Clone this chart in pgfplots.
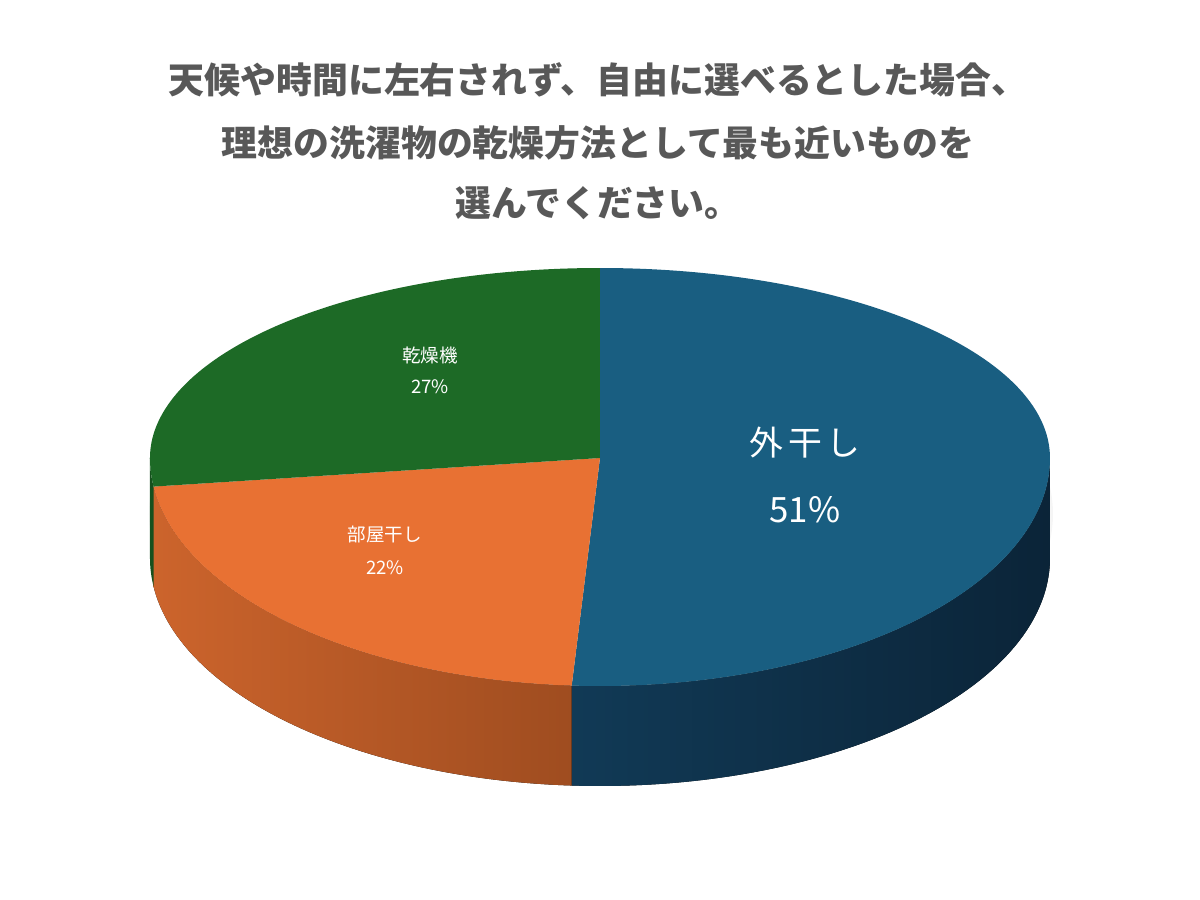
\documentclass[border=0pt]{standalone}
\usepackage{pgfplots}
\pgfplotsset{compat=1.18}
\usepackage{fontspec}
\setmainfont{Noto Sans CJK JP}
\definecolor{titlegray}{RGB}{88,88,88}
\definecolor{topblue}{RGB}{25,94,129}
\definecolor{topgreen}{RGB}{29,106,38}
\definecolor{toporange}{RGB}{232,113,51}
\definecolor{sideblueL}{RGB}{17,58,86}
\definecolor{sideblueR}{RGB}{11,36,56}
\definecolor{sideorangeL}{RGB}{204,100,44}
\definecolor{sideorangeR}{RGB}{156,75,31}
\definecolor{sidegreen}{RGB}{22,80,30}
% data (percent)
\def\vSoto{51}   % 外干し
\def\vHeya{22}   % 部屋干し
\def\vKanso{27}  % 乾燥機
\begin{document}
\begin{tikzpicture}
\pgfmathsetmacro\aA{90}
\pgfmathsetmacro\aB{90-3.6*\vSoto}
\pgfmathsetmacro\aC{\aB-3.6*\vHeya}
\pgfmathsetmacro\aD{\aC-3.6*\vKanso}
\begin{axis}[at={(0,0)},anchor=south west,x=0.5bp,y=0.5bp,
  xmin=0,xmax=1200,ymin=0,ymax=900,hide axis,clip=false]
% shadow
\fill[gray!15,opacity=0.5] (axis cs:601,386) ellipse[x radius=226bp,y radius=117bp];
% side walls (near half)
\fill[left color=sideblueL,right color=sideblueR]
  (axis cs:600,442) ++(0:225bp and 114bp)
  arc[start angle=0,end angle=\aB,x radius=225bp,y radius=114bp]
  -- ++(0,-50bp)
  arc[start angle=\aB,end angle=0,x radius=225bp,y radius=114bp] -- cycle;
\fill[left color=sideorangeL,right color=sideorangeR]
  (axis cs:600,442) ++(\aB:225bp and 114bp)
  arc[start angle=\aB,end angle=\aC,x radius=225bp,y radius=114bp]
  -- ++(0,-50bp)
  arc[start angle=\aC,end angle=\aB,x radius=225bp,y radius=114bp] -- cycle;
\fill[sidegreen]
  (axis cs:600,442) ++(\aC:225bp and 114bp)
  arc[start angle=\aC,end angle=-180,x radius=225bp,y radius=114bp]
  -- ++(0,-50bp)
  arc[start angle=-180,end angle=\aC,x radius=225bp,y radius=114bp] -- cycle;
% top faces
\fill[topblue] (axis cs:600,442) -- ++(90:225bp and 95bp)
  arc[start angle=90,end angle=0,x radius=225bp,y radius=95bp]
  arc[start angle=0,end angle=\aB,x radius=225bp,y radius=114bp] -- cycle;
\fill[toporange] (axis cs:600,442) -- ++(\aB:225bp and 114bp)
  arc[start angle=\aB,end angle=\aC,x radius=225bp,y radius=114bp] -- cycle;
\fill[topgreen] (axis cs:600,442) -- ++(\aC:225bp and 114bp)
  arc[start angle=\aC,end angle=-180,x radius=225bp,y radius=114bp]
  arc[start angle=-180,end angle=\aD,x radius=225bp,y radius=95bp] -- cycle;
% labels
\node[white,font=\fontsize{17}{20}\selectfont] at (axis cs:805,457) {外\hspace{2.5bp}干\hspace{2.5bp}し};
\node[white,font=\fontsize{17.5}{20}\selectfont] at (axis cs:805,390) {\vSoto\%};
\node[white,font=\fontsize{9.3}{11}\selectfont] at (axis cs:430,545) {乾燥機};
\node[white,font=\fontsize{9.3}{11}\selectfont] at (axis cs:430,513) {\vKanso\%};
\node[white,font=\fontsize{9.3}{11}\selectfont] at (axis cs:385,365) {部屋干し};
\node[white,font=\fontsize{9.3}{11}\selectfont] at (axis cs:385,332) {\vHeya\%};
% title
\node[titlegray,font=\bfseries\fontsize{18}{20}\selectfont] at (axis cs:598,820) {天候や時間に左右されず、自由に選べるとした場合、};
\node[titlegray,font=\bfseries\fontsize{18}{20}\selectfont] at (axis cs:598,757) {理想の洗濯物の乾燥方法として最も近いものを};
\node[titlegray,font=\bfseries\fontsize{18}{20}\selectfont] at (axis cs:598,697) {選んでください。};
\end{axis}
\pgfresetboundingbox
\path (0,0) rectangle (600bp,450bp);
\end{tikzpicture}
\end{document}
